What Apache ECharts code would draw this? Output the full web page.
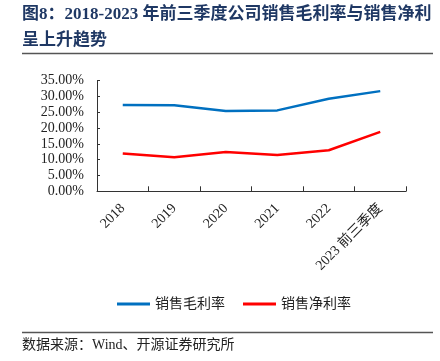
<!DOCTYPE html>
<html><head><meta charset="utf-8">
<script src="https://cdn.jsdelivr.net/npm/echarts@6/dist/echarts.min.js"></script>
<style>html,body{margin:0;padding:0;background:#fff}#c{width:440px;height:361px}</style>
</head><body><div id="c"></div>
<script>
const categories = ['2018','2019','2020','2021','2022','2023 前三季度'];
const grossMargin = [27.3, 27.2, 25.4, 25.6, 29.3, 31.7];
const netMargin = [12.0, 10.8, 12.4, 11.5, 13.0, 18.8];
const seriesNames = ['销售毛利率','销售净利率'];
const titleLine1 = '图8：2018-2023 年前三季度公司销售毛利率与销售净利';
const titleLine2 = '呈上升趋势';
const sourceText = '数据来源：Wind、开源证券研究所';

const chart = echarts.init(document.getElementById('c'), null, {renderer:'canvas'});
const serif = '"Liberation Serif","Noto Sans CJK SC",serif';
chart.setOption({
  animation:false,
  backgroundColor:'#fff',
  graphic:[
    {type:'text', left:22, top:6, style:{text:titleLine1, font:'bold 17px "Liberation Serif","Noto Sans CJK SC"', fill:'#1F3864'}},
    {type:'text', left:22, top:32, style:{text:titleLine2, font:'bold 17px "Liberation Serif","Noto Sans CJK SC"', fill:'#1F3864'}},
    {type:'line', shape:{x1:22,y1:53.5,x2:433,y2:53.5}, style:{stroke:'#555',lineWidth:1.5}},
    {type:'line', shape:{x1:22,y1:332.5,x2:433,y2:332.5}, style:{stroke:'#555',lineWidth:1.5}},
    {type:'text', left:22, top:338, style:{text:sourceText, font:'14px "Liberation Serif","Noto Sans CJK SC"', fill:'#222'}}
  ],
  grid:{left:97, right:34, top:80.7, bottom:169.7, containLabel:false},
  legend:{
    data:seriesNames, left:112, top:292, icon:'rect', itemWidth:33, itemHeight:3, itemGap:18,
    textStyle:{fontFamily:serif, fontSize:14, color:'#222'}
  },
  xAxis:{
    type:'category', data:categories, boundaryGap:true,
    axisLine:{lineStyle:{color:'#333', width:1}},
    axisTick:{show:true, inside:true, length:5, alignWithLabel:false, lineStyle:{color:'#333'}},
    axisLabel:{rotate:45, margin:15, fontFamily:serif, fontSize:14, color:'#222', interval:0}
  },
  yAxis:{
    type:'value', min:0, max:35, interval:5,
    splitLine:{show:false},
    axisLine:{show:true, lineStyle:{color:'#333', width:1}},
    axisTick:{show:true, inside:true, length:3, lineStyle:{color:'#333'}},
    axisLabel:{formatter:v=>v.toFixed(2)+'%', fontFamily:serif, fontSize:14, color:'#222', margin:13}
  },
  series:[
    {name:seriesNames[0], type:'line', data:grossMargin, symbol:'none', lineStyle:{color:'#0070C0', width:2.5}, itemStyle:{color:'#0070C0'}},
    {name:seriesNames[1], type:'line', data:netMargin, symbol:'none', lineStyle:{color:'#FF0000', width:2.5}, itemStyle:{color:'#FF0000'}}
  ]
});
</script></body></html>
